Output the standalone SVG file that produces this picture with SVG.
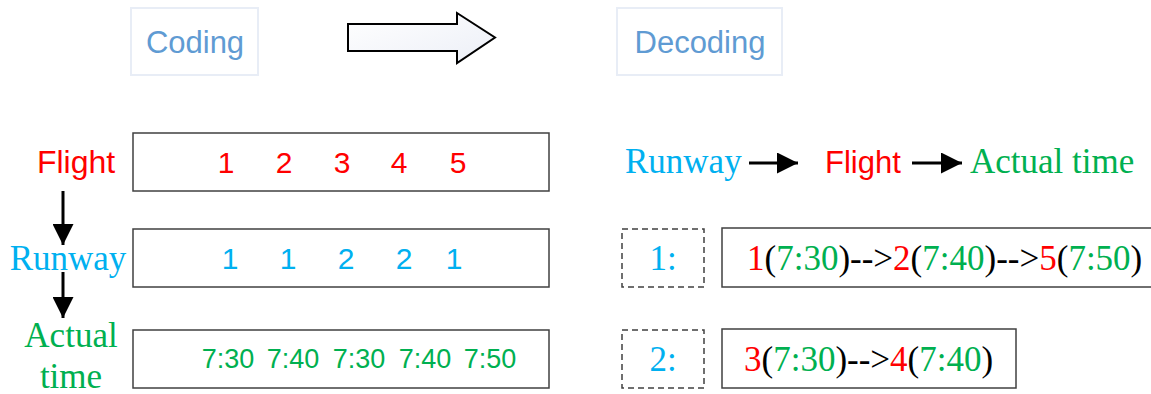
<svg xmlns="http://www.w3.org/2000/svg" width="1151" height="394" viewBox="0 0 1151 394">
<style>
.hdr{fill:#fff;stroke:#e8edf6;stroke-width:2}
.hdrt{font-family:"Liberation Sans",Arial,sans-serif;font-size:31px;fill:#5f9bd3}
.box{fill:#fff;stroke:#404040;stroke-width:1.5}
.dash{fill:#fff;stroke:#404040;stroke-width:1.5;stroke-dasharray:6 4}
.sans{font-family:"Liberation Sans",Arial,sans-serif}
.serif{font-family:"Liberation Serif","Times New Roman",serif;font-size:35px}
.r{fill:#ff0000}.b{fill:#00b0f0}.g{fill:#00b050}.k{fill:#000}
.conn{stroke:#000;stroke-width:3;fill:none}
</style>
<defs>
<linearGradient id="ag" x1="0" y1="0" x2="1" y2="1">
<stop offset="0" stop-color="#ffffff"/><stop offset="1" stop-color="#eceff7"/>
</linearGradient>
<marker id="ah" viewBox="0 0 10 10" refX="10" refY="5" markerWidth="7" markerHeight="7" markerUnits="strokeWidth" orient="auto">
<path d="M0,0 L10,5 L0,10 Z" fill="#000"/>
</marker>
</defs>

<g id="coding">
<rect class="hdr" x="131" y="8" width="127" height="67"/>
<text class="hdrt" x="195" y="53" text-anchor="middle">Coding</text>
</g>
<g id="bigArrow">
<path d="M348,24 L457,24 L457,13 L495,37.5 L457,63 L457,51 L348,51 Z" fill="url(#ag)" stroke="#000" stroke-width="2"/>
</g>
<g id="decoding">
<rect class="hdr" x="617" y="8" width="165" height="67"/>
<text class="hdrt" x="700" y="53" text-anchor="middle">Decoding</text>
</g>

<g id="flightLabel"><text class="sans r" x="76" y="173" font-size="32" text-anchor="middle">Flight</text></g>
<g id="runwayLabel"><text class="serif b" x="68" y="270" text-anchor="middle">Runway</text></g>
<g id="actualLabel">
<text class="serif g" x="71" y="347" text-anchor="middle">Actual</text>
<text class="serif g" x="71" y="388" text-anchor="middle">time</text>
</g>

<g id="flightBox">
<rect class="box" x="133" y="133" width="416" height="58"/>
<g class="sans r" font-size="30" text-anchor="middle">
<text x="226" y="173">1</text><text x="284" y="173">2</text><text x="342" y="173">3</text><text x="399" y="173">4</text><text x="458" y="173">5</text>
</g>
</g>
<g id="runwayBox">
<rect class="box" x="133" y="229" width="416" height="58"/>
<g class="sans b" font-size="30" text-anchor="middle">
<text x="230" y="269">1</text><text x="288" y="269">1</text><text x="346" y="269">2</text><text x="404" y="269">2</text><text x="454" y="269">1</text>
</g>
</g>
<g id="timeBox">
<rect class="box" x="133" y="330" width="416" height="58"/>
<g class="sans g" font-size="27" text-anchor="middle">
<text x="228" y="368">7:30</text><text x="293" y="368">7:40</text><text x="359" y="368">7:30</text><text x="425" y="368">7:40</text><text x="490" y="368">7:50</text>
</g>
</g>

<g id="legend">
<text class="serif b" x="625" y="173">Runway</text>
<text class="sans r" x="825" y="173" font-size="31">Flight</text>
<text class="serif g" x="970" y="173">Actual time</text>
</g>

<g id="runway1">
<rect class="dash" x="622" y="229" width="82" height="58"/>
<text class="serif b" x="663" y="270" text-anchor="middle">1:</text>
</g>
<g id="seq1">
<rect class="box" x="722" y="228" width="440" height="59"/>
<text class="serif k" x="747" y="270"><tspan class="r">1</tspan>(<tspan class="g">7:30</tspan>)--&gt;<tspan class="r">2</tspan>(<tspan class="g">7:40</tspan>)--&gt;<tspan class="r">5</tspan>(<tspan class="g">7:50</tspan>)</text>
</g>
<g id="runway2">
<rect class="dash" x="622" y="330" width="82" height="58"/>
<text class="serif b" x="663" y="371" text-anchor="middle">2:</text>
</g>
<g id="seq2">
<rect class="box" x="722" y="329" width="294" height="59"/>
<text class="serif k" x="744" y="371"><tspan class="r">3</tspan>(<tspan class="g">7:30</tspan>)--&gt;<tspan class="r">4</tspan>(<tspan class="g">7:40</tspan>)</text>
</g>

<g id="connectors">
<line class="conn" x1="63" y1="191" x2="63" y2="245" marker-end="url(#ah)"/>
<line class="conn" x1="63" y1="272" x2="63" y2="318" marker-end="url(#ah)"/>
<line class="conn" x1="749" y1="163" x2="798" y2="163" marker-end="url(#ah)"/>
<line class="conn" x1="912" y1="163" x2="962" y2="163" marker-end="url(#ah)"/>
</g>
</svg>
